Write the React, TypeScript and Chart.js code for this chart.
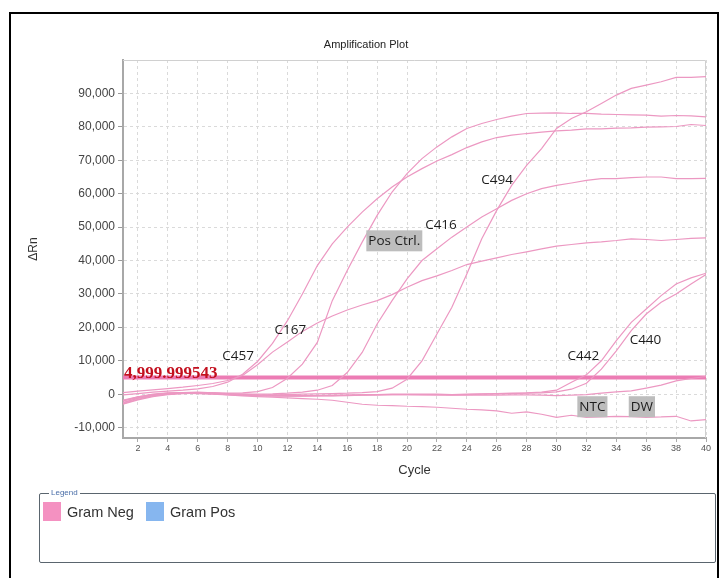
import React, { useEffect, useRef } from "react";
import { Chart, registerables } from "chart.js";

Chart.register(...registerables);

// ---------- data ----------
const CYCLES = [1, 2, 3, 4, 5, 6, 7, 8, 9, 10, 11, 12, 13, 14, 15, 16, 17, 18, 19, 20,
  21, 22, 23, 24, 25, 26, 27, 28, 29, 30, 31, 32, 33, 34, 35, 36, 37, 38, 39, 40];

const X_TICKS = [2, 4, 6, 8, 10, 12, 14, 16, 18, 20, 22, 24, 26, 28, 30, 32, 34, 36, 38, 40];
const Y_TICKS = [-10000, 0, 10000, 20000, 30000, 40000, 50000, 60000, 70000, 80000, 90000];

const THRESHOLD = 4999.999543;

const C457 = [-200, 200, 600, 900, 1200, 1600, 2300, 3600, 6000, 9800, 15200, 22000, 30000, 38500, 45000, 50000, 54500, 58500, 62000, 65000,
  67500, 69800, 71700, 73800, 75500, 76800, 77500, 78000, 78400, 78800, 79000, 79400, 79400, 79600, 79700, 79900, 80000, 80100, 80700, 80400];
const C167 = [500, 900, 1300, 1700, 2100, 2600, 3200, 4100, 5600, 8800, 12600, 15600, 18800, 21300, 23400, 25200, 26700, 28000, 29800, 32000,
  34000, 35400, 37000, 38800, 39800, 40800, 41800, 42600, 43500, 44300, 44800, 45300, 45600, 46000, 46500, 46300, 46000, 46300, 46600, 46800];
const POS_CTRL = [-2500, -1200, -300, 200, 400, 500, 400, 300, 400, 800, 2000, 4800, 9000, 15500, 28000, 37000, 45500, 53500, 60500, 66000,
  70500, 74000, 77000, 79500, 81000, 82200, 83200, 84000, 84100, 84200, 84000, 84000, 83800, 83700, 83600, 83500, 83200, 83400, 83300, 83000];
const C416 = [-2000, -800, 0, 400, 500, 500, 300, 100, 0, 0, 100, 300, 600, 1200, 2600, 6500, 12500, 21000, 28000, 34500,
  40000, 43500, 47000, 50000, 53000, 55500, 58000, 60000, 61500, 62500, 63200, 64000, 64500, 64500, 64800, 65000, 65000, 64500, 64500, 64600];
const C494 = [-2800, -1500, -500, 0, 300, 300, 100, -100, -300, -300, -200, -100, 0, 100, 200, 300, 500, 800, 1800, 4500,
  10000, 18000, 26000, 36000, 46500, 55000, 62500, 68500, 73500, 79500, 82500, 84500, 87000, 89500, 91500, 92500, 93500, 94800, 94800, 95000];
const C442 = [-2500, -1200, -400, 100, 400, 500, 300, 0, -200, -400, -500, -500, -500, -400, -400, -300, -200, -100, 0, 0,
  0, 0, -100, 0, 100, 200, 300, 400, 600, 1200, 3600, 5800, 10000, 16000, 21500, 25500, 29500, 33000, 34800, 36200];
const C440 = [-3000, -1700, -700, -100, 200, 300, 200, -100, -300, -500, -600, -600, -600, -500, -500, -400, -300, -200, -100, -100,
  -100, -200, -200, -100, 0, 100, 200, 300, 400, 700, 1500, 3300, 7500, 13000, 19000, 24000, 27500, 30000, 33000, 35800];
const NTC = [-1800, -800, -100, 300, 500, 600, 400, 200, 0, -200, -300, -400, -400, -400, -300, -300, -200, -200, -100, -100,
  -200, -200, -300, -300, -300, -300, -200, -200, -300, -400, -300, -100, 300, 700, 1000, 1800, 2700, 4000, 4700, 5300];
const DW = [-2000, -1000, -300, 100, 300, 200, 0, -200, -500, -700, -900, -1100, -1300, -1500, -1800, -2400, -3000, -3300, -3400, -3600,
  -3700, -3900, -4200, -4500, -4700, -5000, -5700, -5300, -6000, -6900, -6300, -6900, -6800, -6600, -6700, -6900, -6800, -6600, -8000, -7600];

const SERIES_NAMES = ["C457", "C167", "Pos Ctrl.", "C416", "C494", "C442", "C440", "NTC", "DW"];
const SERIES_VALUES = [C457, C167, POS_CTRL, C416, C494, C442, C440, NTC, DW];

// curve annotations (anchored in data coordinates: cycle, ΔRn)
const LABEL_TEXT = ["C457", "C167", "Pos Ctrl.", "C416", "C494", "C442", "C440", "NTC", "DW"];
const LABEL_CYCLE = [8.7, 12.2, 19.15, 22.27, 26.03, 31.8, 35.95, 32.4, 35.71];
const LABEL_VALUE = [11660, 19430, 45900, 50800, 64300, 11660, 16440, -3740, -3740];
const LABEL_BOXED = [false, false, true, false, false, false, false, true, true];

const LEGEND_NAMES = ["Gram Neg", "Gram Pos"];

// ---------- styles ----------
const CURVE_COLOR = "rgb(236,152,194)";
const THRESH_COLOR = "rgb(236,124,180)";
const FONT = "'Liberation Sans', Arial, sans-serif";

const decorPlugin = {
  id: "decor",
  beforeDatasetsDraw(chart: any) {
    const { ctx, chartArea: a } = chart;
    ctx.save();
    ctx.strokeStyle = "#d0d0d0";
    ctx.lineWidth = 1;
    ctx.beginPath();
    ctx.moveTo(a.left, a.top + 0.5);
    ctx.lineTo(a.right - 0.5, a.top + 0.5);
    ctx.lineTo(a.right - 0.5, a.bottom);
    ctx.stroke();
    ctx.restore();
  },
  afterDatasetsDraw(chart: any) {
    const { ctx, chartArea: a, scales } = chart;
    const x = scales.x;
    const y = scales.y;
    ctx.save();
    // threshold label
    ctx.font = "bold 17px 'Liberation Serif', 'Times New Roman', serif";
    ctx.fillStyle = "#c3101f";
    ctx.textAlign = "left";
    ctx.textBaseline = "alphabetic";
    const tLabel = THRESHOLD.toLocaleString("en-US", { minimumFractionDigits: 6, maximumFractionDigits: 6 });
    ctx.fillText(tLabel, a.left + 1, y.getPixelForValue(THRESHOLD) + 0.5);
    // curve labels
    ctx.font = "13.5px 'Open Sans', 'Noto Sans', sans-serif";
    ctx.textAlign = "center";
    ctx.textBaseline = "middle";
    LABEL_TEXT.forEach((t, i) => {
      const px = x.getPixelForValue(LABEL_CYCLE[i]);
      const py = y.getPixelForValue(LABEL_VALUE[i]);
      if (LABEL_BOXED[i]) {
        const w = ctx.measureText(t).width + 4;
        ctx.fillStyle = "#bdbdbd";
        ctx.fillRect(px - w / 2, py - 10.5, w, 21);
      }
      ctx.fillStyle = "#1c1c1c";
      ctx.fillText(t, px, py + 0.5);
    });
    ctx.restore();
  },
};

function AmplificationChart() {
  const ref = useRef<HTMLCanvasElement | null>(null);
  useEffect(() => {
    if (!ref.current) return;
    const datasets: any[] = SERIES_VALUES.map((vals, i) => ({
      label: SERIES_NAMES[i],
      data: CYCLES.map((c, j) => ({ x: c, y: vals[j] })),
      borderColor: CURVE_COLOR,
      borderWidth: 1.2,
      pointRadius: 0,
      tension: 0,
      fill: false,
    }));
    datasets.push({
      label: "Threshold",
      data: [
        { x: CYCLES[0], y: THRESHOLD },
        { x: CYCLES[CYCLES.length - 1], y: THRESHOLD },
      ],
      borderColor: THRESH_COLOR,
      borderWidth: 4,
      pointRadius: 0,
      fill: false,
    });
    const chart = new Chart(ref.current, {
      type: "line",
      data: { datasets },
      plugins: [decorPlugin],
      options: {
        animation: false,
        responsive: false,
        maintainAspectRatio: false,
        layout: { padding: { left: 26, right: 21, top: 38.4, bottom: 0 } },
        plugins: {
          legend: { display: false },
          tooltip: { enabled: false },
          title: {
            display: true,
            text: "Amplification Plot",
            color: "#222",
            font: { family: FONT, size: 11, weight: "normal" },
            padding: { top: 0, bottom: 8.4 },
          },
        },
        scales: {
          x: {
            type: "linear",
            min: 1,
            max: 40,
            afterBuildTicks: (s: any) => {
              s.ticks = X_TICKS.map((v) => ({ value: v }));
            },
            afterFit: (s: any) => {
              s.height = 140;
            },
            grid: { color: "#dadada", lineWidth: 1, tickLength: 4, tickColor: "#aaa" },
            border: { color: "#a8a8a8", width: 2, dash: [3, 3] },
            ticks: { font: { family: FONT, size: 9 }, color: "#555", padding: 1, maxRotation: 0, autoSkip: false },
            title: {
              display: true,
              text: "Cycle",
              color: "#333",
              font: { family: FONT, size: 13 },
              padding: { top: 0, bottom: 100 },
            },
          },
          y: {
            type: "linear",
            min: -13100,
            max: 100000,
            afterBuildTicks: (s: any) => {
              s.ticks = Y_TICKS.map((v) => ({ value: v }));
            },
            afterFit: (s: any) => {
              s.width = 97;
            },
            grid: { color: "#dadada", lineWidth: 1, tickLength: 5, tickColor: "#999" },
            border: { color: "#a8a8a8", width: 2, dash: [3, 3] },
            ticks: {
              font: { family: FONT, size: 12 },
              color: "#444",
              padding: 3,
              callback: (v: any) => Number(v).toLocaleString("en-US"),
            },
            title: {
              display: true,
              text: "ΔRn",
              color: "#333",
              font: { family: FONT, size: 12 },
              padding: { top: 0, bottom: 0 },
            },
          },
        },
      } as any,
    });
    return () => chart.destroy();
  }, []);
  return <canvas ref={ref} width={727} height={578} style={{ position: "absolute", left: 0, top: 0, width: 727, height: 578 }} />;
}

export default function App() {
  const legendColors = ["#f491c1", "#86b6ef"];
  return (
    <div style={{ position: "fixed", left: 0, top: 0, width: 727, height: 578, overflow: "hidden", background: "#fff", fontFamily: FONT }}>
      <div style={{ position: "absolute", left: 9, top: 12, width: 710, height: 600, border: "2px solid #000", boxSizing: "border-box" }} />
      <AmplificationChart />
      <div style={{ position: "absolute", left: 39, top: 493, width: 677, height: 70, border: "1.5px solid #5a656e", borderRadius: 2, boxSizing: "border-box" }}>
        <div style={{ position: "absolute", left: 9, top: -6, fontSize: 8, lineHeight: "10px", color: "#4a6ea8", background: "#fff", padding: "0 2px" }}>Legend</div>
        {LEGEND_NAMES.map((name, i) => (
          <div key={name} style={{ position: "absolute", left: i === 0 ? 3 : 106, top: 8, display: "flex", alignItems: "center", height: 19 }}>
            <div style={{ width: 18, height: 19, background: legendColors[i] }} />
            <span style={{ marginLeft: 6, fontSize: 14.5, color: "#333" }}>{name}</span>
          </div>
        ))}
      </div>
    </div>
  );
}
